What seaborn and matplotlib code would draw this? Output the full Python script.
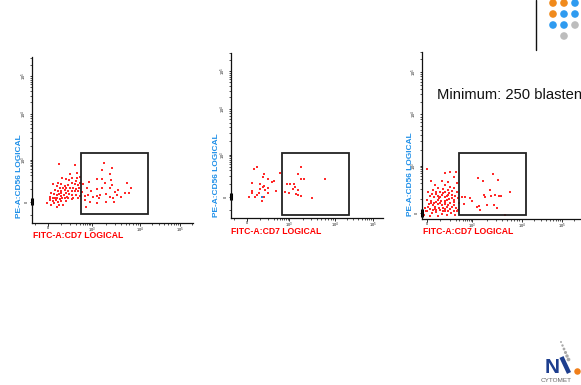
import numpy as np
import pandas as pd
import matplotlib
matplotlib.use("Agg")
import matplotlib.pyplot as plt
from matplotlib.patches import Rectangle
from matplotlib.ticker import FixedLocator
import seaborn as sns

# ---------------- data (logicle display units: 0 -> "0", 1 -> 10^3, 2.1 -> 10^4, 3.0 -> 10^5)
tick_pos = [0.0, 1.0, 2.1, 3.0]
tick_labels = ["0", "$10^3$", "$10^4$", "$10^5$"]

# panel 1
cd7_p1 = [1.27, 1.22, 1.45, 1.11, 1.24, 1.41, 1.43, 0.94, 0.80, 1.30,
          1.45, 1.79, 0.88, 0.99, 1.11, 1.22, 1.41, 1.60, 1.90, 1.52,
          1.75, 0.84, 0.92, 1.03, 1.11, 1.18, 1.33, 1.41, 1.58, 1.67,
          1.85, 0.84, 1.17, 1.48, 0.95, 1.11, 1.33, 1.50, 0.86,
          0.26, 0.61, 0.67, 0.50, 0.56, 0.41, 0.33, 0.48, 0.67, 0.73, 0.65,
          0.23, 0.31, 0.39, 0.46, 0.54, 0.61, 0.69, 0.74, 0.12,
          0.20, 0.27, 0.35, 0.42, 0.50, 0.58, 0.65, 0.71,
          0.16, 0.23, 0.31, 0.39, 0.46, 0.54, 0.61, 0.69, 0.77,
          0.08, 0.14, 0.20, 0.26, 0.31, 0.37, 0.42, 0.48, 0.56, 0.65, 0.73,
          0.05, 0.11, 0.16, 0.21, 0.27, 0.33, 0.39, 0.46, 0.54,
          0.06, 0.12, 0.18, 0.23, 0.31, 0.42,
          -0.02, 0.08, 0.14, 0.26, 0.20, 0.35,
          0.58, 0.69, 0.05, 0.29, 0.44]
cd56_p1 = [0.92, 0.76, 0.82, 0.55, 0.54, 0.66, 0.52, 0.48, 0.43, 0.44,
           0.40, 0.44, 0.33, 0.26, 0.30, 0.33, 0.33, 0.29, 0.33, 0.23,
           0.22, 0.15, 0.17, 0.13, 0.15, 0.17, 0.18, 0.13, 0.17, 0.13,
           0.21, 0.05, 0.09, 0.10, 0.01, -0.03, 0.01, -0.01, -0.11,
           0.90, 0.87, 0.68, 0.66, 0.58, 0.55, 0.56, 0.52, 0.56, 0.60, 0.50,
           0.44, 0.42, 0.39, 0.40, 0.44, 0.42, 0.40, 0.44, 0.42,
           0.37, 0.34, 0.33, 0.34, 0.33, 0.34, 0.31, 0.34,
           0.29, 0.26, 0.25, 0.29, 0.26, 0.25, 0.26, 0.25, 0.23,
           0.21, 0.18, 0.17, 0.18, 0.15, 0.17, 0.21, 0.18, 0.17, 0.17, 0.15,
           0.13, 0.10, 0.09, 0.10, 0.07, 0.09, 0.10, 0.09, 0.07,
           0.05, 0.02, 0.05, 0.01, 0.02, 0.02,
           -0.03, -0.06, -0.03, -0.06, -0.13, -0.07,
           0.10, 0.09, 0.09, 0.21, 0.13]
gate_p1 = [0.75, 2.27, -0.29, 1.17]   # x0, x1, y0, y1

# panel 2
cd7_p2 = [0.23, 0.17, 0.41, 0.39, 0.49, 0.65, 0.59, 0.11, 0.31, 0.41,
          0.39, 0.49, 0.43, 0.31, 0.11, 0.13, 0.29, 0.68, 0.25, 0.35,
          0.40, 0.19, 0.51, 0.05, 0.35, 0.79,
          1.28, 1.21, 1.28, 1.36, 1.87, 1.13, 0.96, 1.02, 1.14, 1.10,
          1.22, 0.90, 1.00, 1.17, 1.22, 1.29, 1.56]
cd56_p2 = [0.72, 0.66, 0.55, 0.48, 0.44, 0.39, 0.35, 0.33, 0.30, 0.26,
           0.23, 0.21, 0.17, 0.18, 0.15, 0.10, 0.10, 0.15, 0.05, -0.01,
           -0.01, 0.01, 0.10, -0.01, -0.10, 0.56,
           0.72, 0.54, 0.44, 0.42, 0.43, 0.30, 0.30, 0.30, 0.25, 0.19,
           0.17, 0.11, 0.09, 0.07, 0.05, 0.02, -0.03]
cd7_p2_other = [0.36]
cd56_p2_other = [0.00]
gate_p2 = [0.83, 2.43, -0.43, 1.05]

# panel 3
cd7_p3 = [1.13, 1.25, 1.46, 1.57, 0.77, 0.84, 0.96, 0.83, 0.99, 1.10,
          1.16, 1.27, 1.29, 1.40, 1.42, 1.50, 1.59, 1.64, 1.48, 1.55,
          1.84, 1.33, 1.73, 1.18,
          0.01, 0.10, 0.41, 0.51, 0.64, 0.59, 0.33, 0.46, 0.66, 0.18,
          0.03, 0.40, 0.51, 0.25, 0.61, 0.36, 0.47, 0.56, 0.66, 0.14,
          0.29, 0.41, 0.21, 0.33, 0.46, 0.55, 0.62, 0.07, 0.16, 0.27,
          0.39, 0.49, 0.59, 0.68, -0.01, 0.10, 0.19, 0.31, 0.41, 0.51,
          0.61, 0.70, 0.04, 0.14, 0.24, 0.34, 0.44, 0.55, 0.64, -0.04,
          0.07, 0.18, 0.29, 0.39, 0.47, 0.59, 0.68, 0.01, 0.12, 0.21,
          0.33, 0.44, 0.53, 0.62, -0.06, 0.07, 0.25, 0.36, 0.18, 0.29,
          0.44, 0.36, 0.24, 0.12, 0.55, 0.47, 0.21, 0.16, 0.35, 0.41,
          0.51, 0.03, 0.09, 0.25, 0.39, 0.30, 0.20, 0.50, 0.59, 0.67,
          -0.02, 0.13, 0.27, 0.40, 0.45]
cd56_p3 = [0.74, 0.69, 0.82, 0.70, 0.33, 0.33, 0.31, 0.18, 0.26, 0.12,
           0.15, 0.38, 0.33, 0.48, 0.35, 0.38, 0.35, 0.37, 0.17, 0.10,
           0.45, 0.17, -0.04, 0.06,
           0.93, 0.68, 0.84, 0.88, 0.88, 0.77, 0.67, 0.65, 0.63, 0.60,
           0.44, 0.60, 0.56, 0.54, 0.54, 0.52, 0.49, 0.47, 0.45, 0.49,
           0.45, 0.44, 0.40, 0.38, 0.38, 0.38, 0.35, 0.37, 0.33, 0.31,
           0.33, 0.30, 0.28, 0.31, 0.28, 0.26, 0.24, 0.26, 0.23, 0.21,
           0.23, 0.21, 0.18, 0.16, 0.18, 0.16, 0.13, 0.13, 0.11, 0.11,
           0.09, 0.09, 0.06, 0.09, 0.05, 0.04, 0.06, 0.03, -0.01, 0.01,
           -0.02, -0.04, -0.01, -0.04, -0.04, -0.06, -0.06, 0.03, 0.13, 0.21,
           0.28, 0.42, 0.35, 0.40, 0.31, 0.17, 0.06, 0.21, 0.11, 0.03,
           0.09, 0.13, 0.21, 0.28, 0.26, 0.33, 0.45, 0.42, 0.17, 0.03,
           0.03, 0.06, 0.11, 0.18, 0.35]
gate_p3 = [0.71, 2.20, -0.04, 1.28]

x_label = "FITC-A:CD7 LOGICAL"
y_label = "PE-A:CD56 LOGICAL"
note_text = "Minimum: 250 blasten"

# slide decoration (logo dots, top right)
dot_col = [553, 564, 575, 553, 564, 575, 553, 564, 575, 564]
dot_row = [3, 3, 3, 14, 14, 14, 25, 25, 25, 36]
dot_kind = ["o", "o", "b", "o", "b", "b", "b", "b", "g", "g"]

# ---------------- styling
sns.set_style("white")
plt.rcParams["font.family"] = ["Liberation Sans", "DejaVu Sans"]
plt.rcParams["mathtext.fontset"] = "custom"
plt.rcParams["mathtext.rm"] = "Liberation Sans"

W, H = 581, 385
fig = plt.figure(figsize=(W / 100, H / 100), dpi=100)
fig.patch.set_facecolor("white")

RED = "#ff2a2a"
LBLUE = "#1e8fe8"
XRED = "#ff0000"


def add_axes_px(l, t, r, b):
    return fig.add_axes([l / W, 1 - b / H, (r - l) / W, (b - t) / H])


def minor_ticks(lo, hi):
    vals = [-0.3]
    for k in range(1, 10):
        vals.append(0.3 + 0.7 * np.log10(k))
        vals.append(1.0 + 1.1 * np.log10(k))
        vals.append(2.1 + 0.9 * np.log10(k))
        vals.append(3.0 + 0.9 * np.log10(k))
    vals = [v for v in vals if lo < v < hi and min(abs(v - m) for m in tick_pos) > 0.02]
    return sorted(vals)


def style(ax, xlim, ylim):
    ax.set_xlim(*xlim)
    ax.set_ylim(*ylim)
    ax.set_facecolor("none")
    for s in ["top", "right"]:
        ax.spines[s].set_visible(False)
    for s in ["left", "bottom"]:
        ax.spines[s].set_color("#111111")
        ax.spines[s].set_linewidth(0.9)
    ax.set_xticks(tick_pos)
    ax.set_xticklabels(tick_labels, fontsize=2.8)
    ax.set_yticks(tick_pos)
    ax.set_yticklabels(tick_labels, fontsize=2.8, rotation=90, va="center")
    ax.xaxis.set_minor_locator(FixedLocator(minor_ticks(*xlim)))
    ax.yaxis.set_minor_locator(FixedLocator(minor_ticks(*ylim)))
    ax.tick_params(which="major", length=1.8, width=0.6, pad=0.2, direction="out",
                   colors="#111111", bottom=True, left=True)
    ax.tick_params(which="minor", length=1.3, width=0.5, direction="out",
                   colors="#111111", bottom=True, left=True)
    ax.set_xlabel("")
    ax.set_ylabel("")
    # thick marker on the y-axis near zero
    ax.plot([0, 0], [-0.08, 0.09], transform=ax.get_yaxis_transform(),
            color="#000000", lw=2.2, clip_on=False, solid_capstyle="butt")


def gate(ax, g):
    ax.add_patch(Rectangle((g[0], g[2]), g[1] - g[0], g[3] - g[2], fill=False,
                           edgecolor="#222222", lw=1.3, zorder=3))


panels = [
    ((32, 57, 193, 223), (-0.36, 3.30), (-0.50, 3.45), cd7_p1, cd56_p1, gate_p1),
    ((231, 53, 383, 218), (-0.38, 3.24), (-0.50, 3.43), cd7_p2, cd56_p2, gate_p2),
    ((422, 52, 600, 219), (-0.11, 3.84), (-0.13, 3.43), cd7_p3, cd56_p3, gate_p3),
]

axes = []
for box, xl, yl, xs, ys, g in panels:
    ax = add_axes_px(*box)
    df = pd.DataFrame({"CD7": xs, "CD56": ys})
    sns.scatterplot(data=df, x="CD7", y="CD56", ax=ax, color=RED, marker="s",
                    s=1.6, linewidth=0, legend=False, zorder=2)
    style(ax, xl, yl)
    gate(ax, g)
    axes.append(ax)

sns.scatterplot(x=cd7_p2_other, y=cd56_p2_other, ax=axes[1], color="#2a7fd4",
                marker="s", s=1.6, linewidth=0, legend=False, zorder=2)
axes[1].set_xlabel("")
axes[1].set_ylabel("")

# axis titles (placed like the cytometry software export)
xlab_pos = [(33, 235.5), (231, 231.5), (423, 231.5)]
ylab_pos = [(20, 218), (217, 217), (410, 216)]
for (xx, yy) in xlab_pos:
    fig.text(xx / W, 1 - yy / H, x_label, color=XRED, fontsize=6.2,
             fontweight="bold", ha="left", va="center")
for (xx, yy) in ylab_pos:
    fig.text(xx / W, 1 - yy / H, y_label, color=LBLUE, fontsize=6.0,
             fontweight="bold", ha="center", va="bottom", rotation=90)

fig.text(437 / W, 1 - 99 / H, note_text, fontsize=10.6, color="#111111",
         ha="left", va="baseline")

# ---------------- slide decorations in pixel space
deco = fig.add_axes([0, 0, 1, 1], zorder=5)
deco.set_xlim(0, W)
deco.set_ylim(H, 0)
deco.axis("off")
deco.patch.set_alpha(0)
deco.plot([536, 536], [0, 50], color="#111111", lw=1.0)
kind_color = {"o": "#f08a1c", "b": "#2f9bf0", "g": "#bdbdbd"}
deco.scatter(dot_col, dot_row, s=30, c=[kind_color[k] for k in dot_kind],
             linewidths=0, clip_on=False)

# logo bottom right
deco.text(545, 373, "N", fontsize=15, fontweight="bold", color="#1d3e8e",
          ha="left", va="baseline")
deco.plot([561.5, 569], [357, 373], color="#1d3e8e", lw=3.2, solid_capstyle="butt")
arc_x = [561, 562.5, 564, 565.5, 567, 568.5]
arc_y = [342, 345.5, 349, 352.5, 356, 359.5]
deco.scatter(arc_x, arc_y, s=[2, 3, 4, 5, 6, 7], c="#a9a9a9", linewidths=0)
deco.scatter([577], [371], s=22, c="#f07f1a", linewidths=0, clip_on=False)
deco.text(541, 381, "CYTOMET", fontsize=4.6, color="#666666", ha="left",
          va="center")

fig.savefig("out.png", dpi=100, facecolor="white")
